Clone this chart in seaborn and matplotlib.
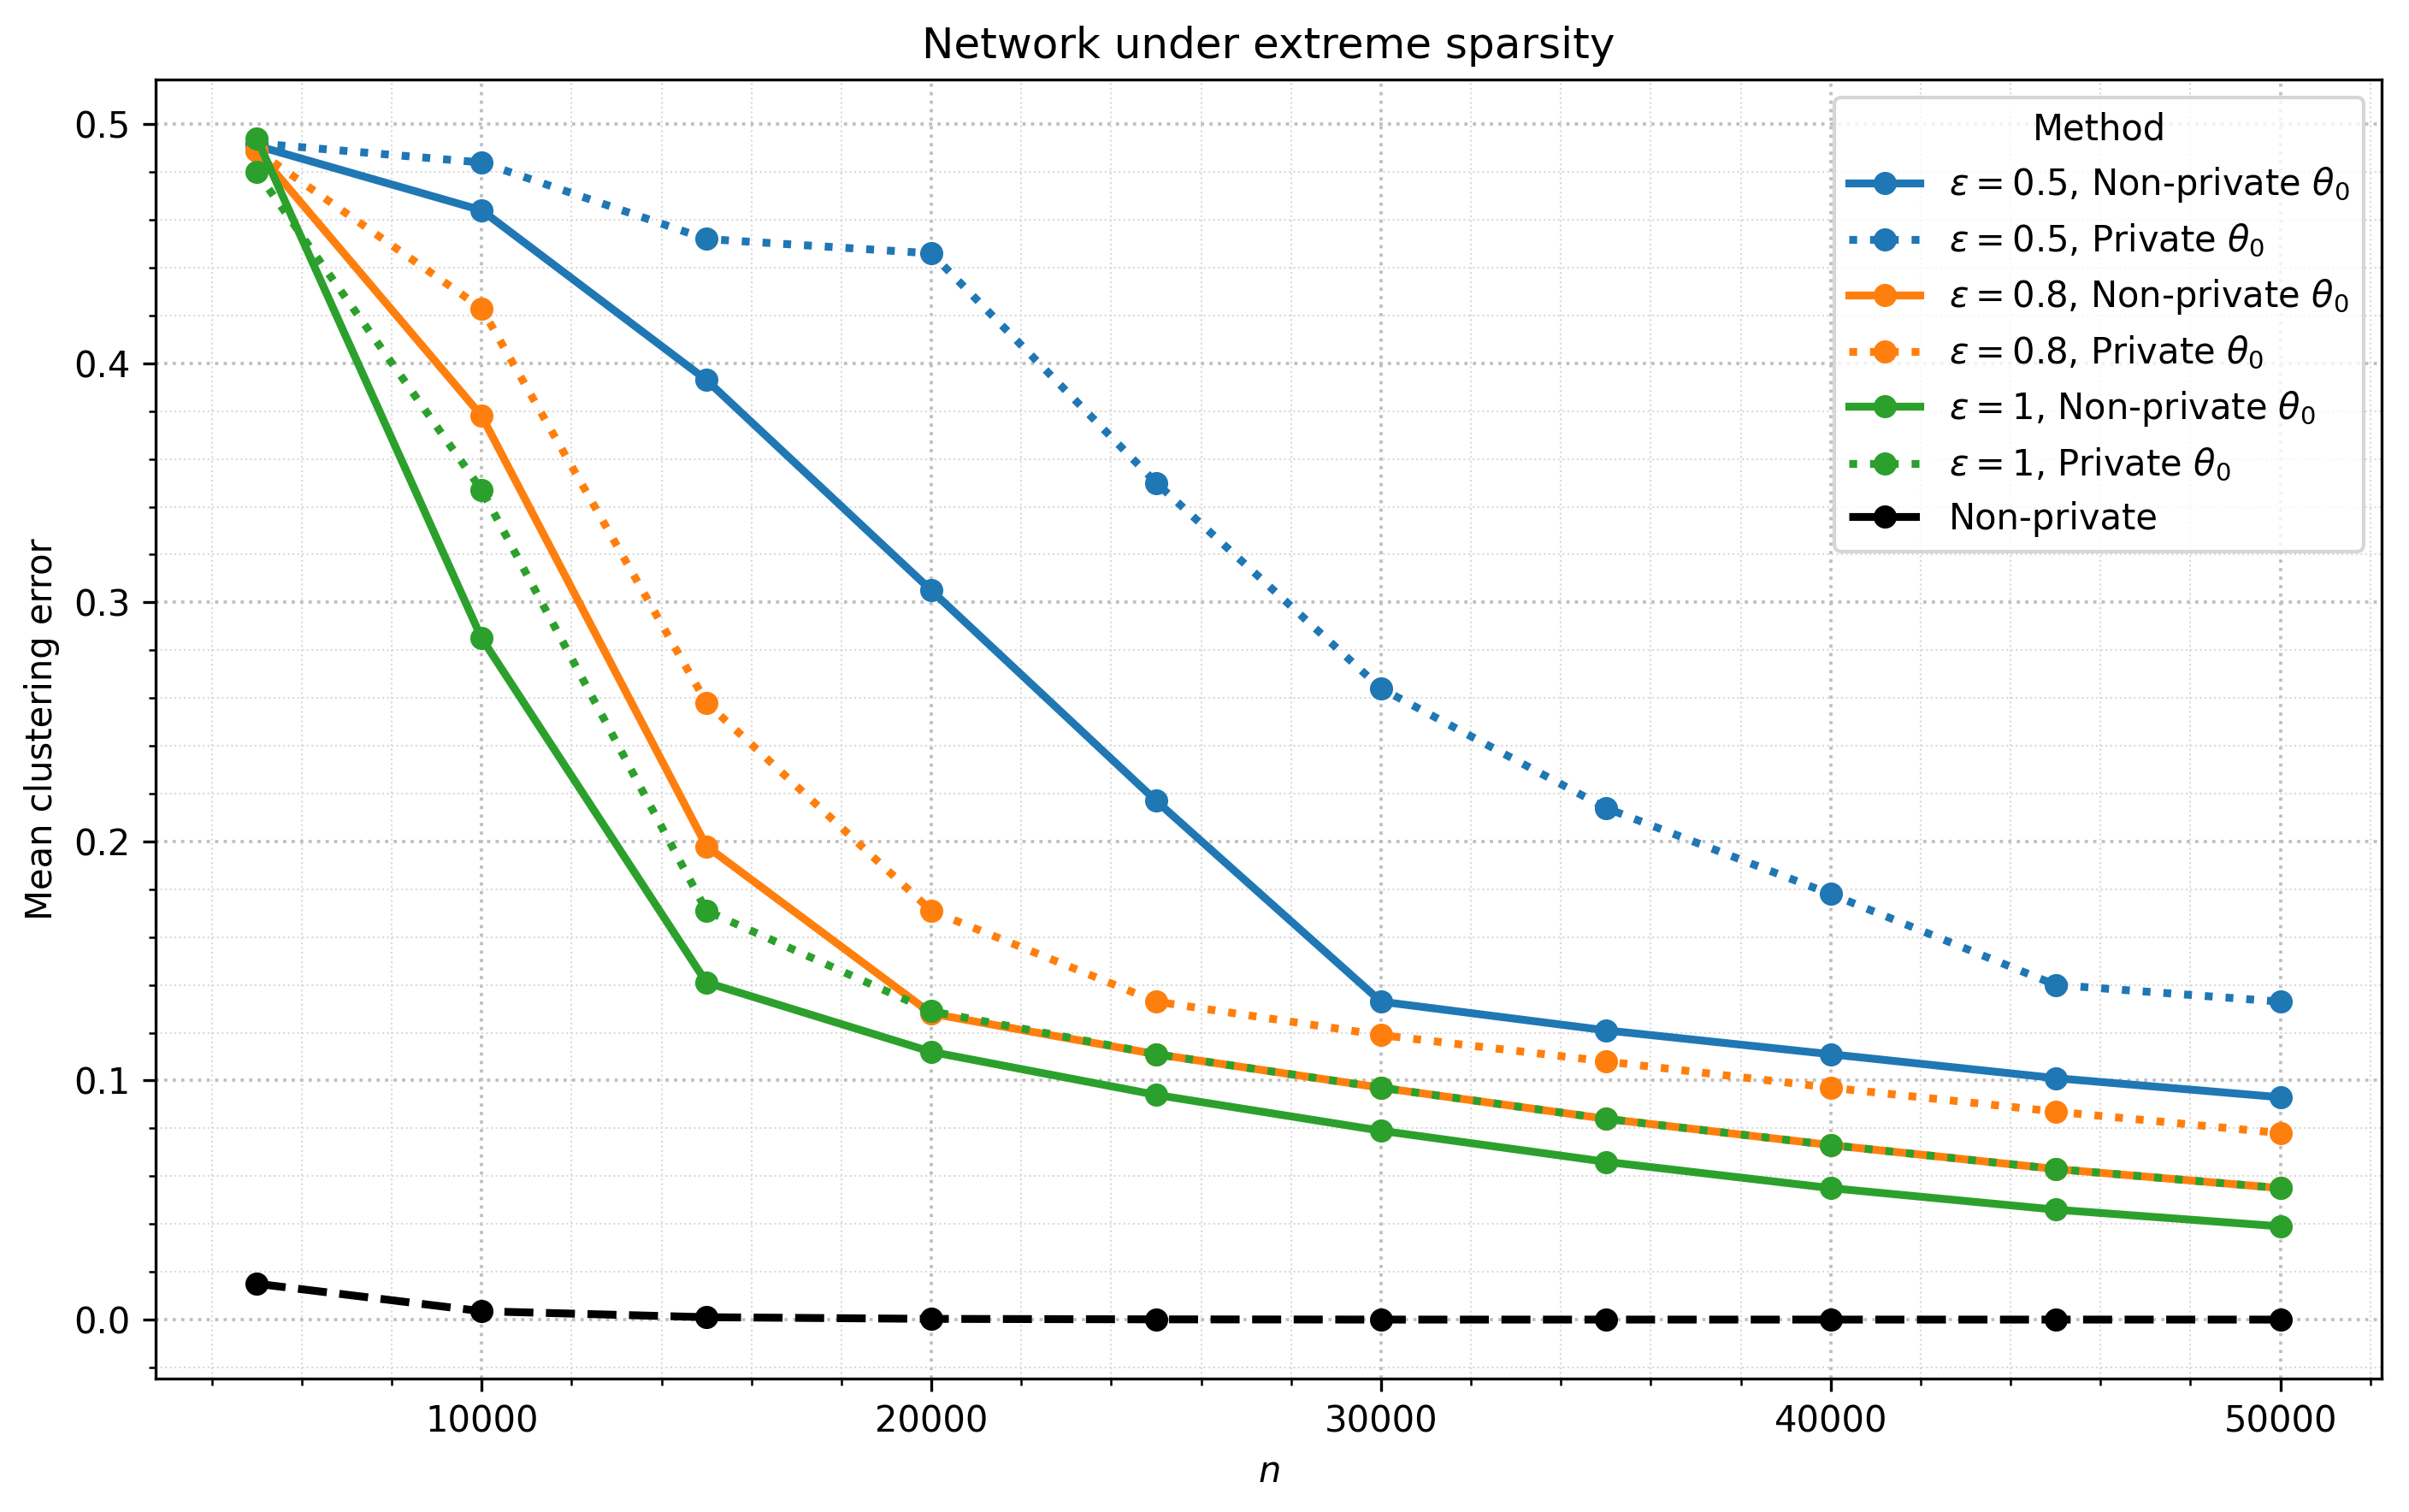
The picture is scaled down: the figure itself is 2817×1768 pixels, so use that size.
import numpy as np
import pandas as pd
import matplotlib
matplotlib.use("Agg")
import matplotlib.pyplot as plt
import seaborn as sns

# sample sizes
n_values = [5000, 10000, 15000, 20000, 25000, 30000, 35000, 40000, 45000, 50000]

# mean clustering error per method
eps05_nonpriv = [0.491, 0.464, 0.393, 0.305, 0.217, 0.133, 0.121, 0.111, 0.101, 0.093]
eps05_priv = [0.492, 0.484, 0.452, 0.446, 0.350, 0.264, 0.214, 0.178, 0.140, 0.133]
eps08_nonpriv = [0.489, 0.378, 0.198, 0.128, 0.111, 0.097, 0.084, 0.073, 0.063, 0.055]
eps08_priv = [0.489, 0.423, 0.258, 0.171, 0.133, 0.119, 0.108, 0.097, 0.087, 0.078]
eps1_nonpriv = [0.494, 0.285, 0.141, 0.112, 0.094, 0.079, 0.066, 0.055, 0.046, 0.039]
eps1_priv = [0.480, 0.347, 0.171, 0.129, 0.111, 0.097, 0.084, 0.073, 0.063, 0.055]
nonprivate = [0.015, 0.0035, 0.001, 0.0003, 0.0001, 0.0, 0.0, 0.0, 0.0, 0.0]

series = [
    (r"$\varepsilon=0.5$, Non-private $\theta_0$", eps05_nonpriv, "#1f77b4", "-"),
    (r"$\varepsilon=0.5$, Private $\theta_0$", eps05_priv, "#1f77b4", ":"),
    (r"$\varepsilon=0.8$, Non-private $\theta_0$", eps08_nonpriv, "#ff7f0e", "-"),
    (r"$\varepsilon=0.8$, Private $\theta_0$", eps08_priv, "#ff7f0e", ":"),
    (r"$\varepsilon=1$, Non-private $\theta_0$", eps1_nonpriv, "#2ca02c", "-"),
    (r"$\varepsilon=1$, Private $\theta_0$", eps1_priv, "#2ca02c", ":"),
    ("Non-private", nonprivate, "black", "--"),
]

fig, ax = plt.subplots(figsize=(2817 / 300, 1768 / 300), dpi=300)

for label, vals, color, ls in series:
    df = pd.DataFrame({"n": n_values, "err": vals})
    sns.lineplot(data=df, x="n", y="err", ax=ax, color=color, linestyle=ls,
                 marker="o", markersize=6.5, markeredgewidth=0,
                 linewidth=2.2, label=label)

ax.minorticks_on()
ax.grid(which="major", linestyle=":", linewidth=0.9, color="0.75")
ax.grid(which="minor", linestyle=":", linewidth=0.5, color="0.85")
ax.set_axisbelow(True)

ax.set_title("Network under extreme sparsity", fontsize=12)
ax.set_xlabel(r"$n$", fontsize=10)
ax.set_ylabel("Mean clustering error", fontsize=10)
ax.legend(title="Method", loc="upper right", fontsize=10, title_fontsize=10)

fig.subplots_adjust(left=0.0646, right=0.9886, top=0.9474, bottom=0.0882)
fig.savefig("out.png", dpi=300)
